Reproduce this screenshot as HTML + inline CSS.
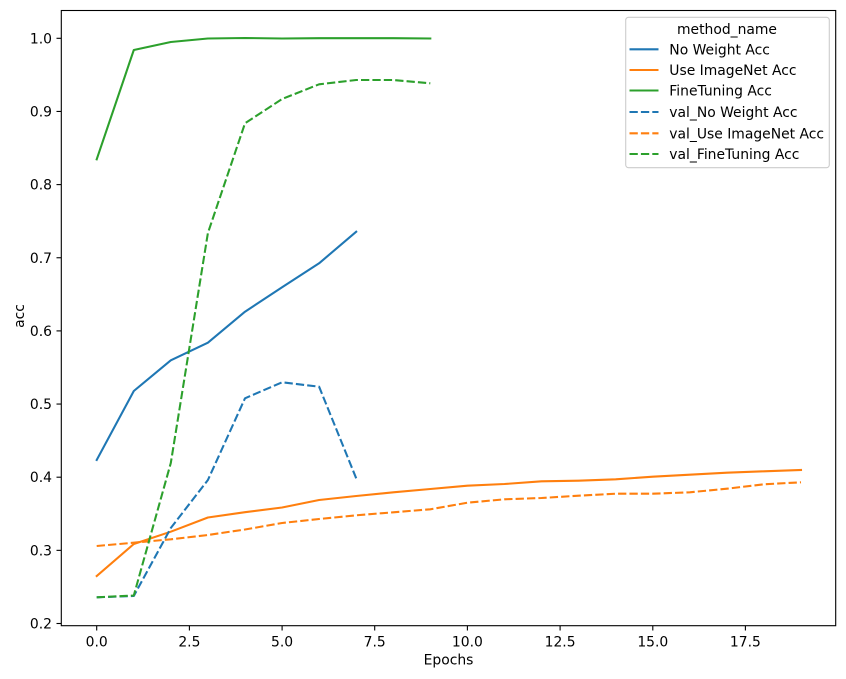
<!DOCTYPE html>
<html>
<head>
<meta charset="utf-8">
<style>
html,body{margin:0;padding:0;background:#fff;}
svg{display:block;}
text{font-family:"DejaVu Sans","Liberation Sans",sans-serif;font-size:13.9px;fill:#000;}
</style>
</head>
<body>
<svg width="846" height="679" viewBox="0 0 846 679" xmlns="http://www.w3.org/2000/svg">
<rect x="0" y="0" width="846" height="679" fill="#fff"/>

<!-- series -->
<g fill="none" stroke-width="2.08" stroke-linejoin="round" stroke-linecap="butt">
  <!-- No Weight Acc -->
  <polyline stroke="#1f77b4" stroke-linecap="square" points="96.7,460 133.8,391 170.8,360.3 207.9,342.7 245.0,311.7 282.1,287.3 319.1,263.3 356.2,231.7"/>
  <!-- Use ImageNet Acc -->
  <polyline stroke="#ff7f0e" stroke-linecap="square" points="96.7,576 133.8,544 170.8,531.7 207.9,517.5 245.0,512.2 282.1,507.5 319.1,500 356.2,496 393.3,492.3 430.3,489 467.4,485.7 504.5,484 541.5,481.3 578.6,480.7 615.7,479.3 652.8,476.7 689.8,474.7 726.9,472.7 764.0,471.3 801.0,470"/>
  <!-- FineTuning Acc -->
  <polyline stroke="#2ca02c" stroke-linecap="square" points="96.7,159.3 133.8,50 170.8,42 207.9,38.5 245.0,38 282.1,38.5 319.1,38.2 356.2,38.2 393.3,38.2 430.3,38.5"/>
  <!-- val_No Weight Acc -->
  <polyline stroke="#1f77b4" stroke-dasharray="8.3,3.1" points="96.7,597.3 133.8,596 170.8,528 207.9,480 245.0,398.3 282.1,382.3 319.1,386.7 356.2,478.3"/>
  <!-- val_Use ImageNet Acc -->
  <polyline stroke="#ff7f0e" stroke-dasharray="8.3,3.1" points="96.7,546 133.8,542.7 170.8,539.3 207.9,535 245.0,529.5 282.1,523 319.1,519 356.2,515.3 393.3,512.3 430.3,509.3 467.4,502.7 504.5,499.3 541.5,498 578.6,495.7 615.7,493.7 652.8,493.7 689.8,492.3 726.9,488.7 764.0,484.3 801.0,482.3"/>
  <!-- val_FineTuning Acc -->
  <polyline stroke="#2ca02c" stroke-dasharray="8.3,3.1" points="96.7,597.3 133.8,595.5 170.8,463 207.9,233 245.0,123.3 282.1,99 319.1,84.3 356.2,80 393.3,80 430.3,83.3"/>
</g>

<!-- axes frame -->
<rect x="61.3" y="10.5" width="774.4" height="615.2" fill="none" stroke="#000" stroke-width="1.1"/>

<!-- y ticks -->
<g stroke="#000" stroke-width="1.1">
  <line x1="56.5" y1="38.3" x2="61.3" y2="38.3"/>
  <line x1="56.5" y1="111.45" x2="61.3" y2="111.45"/>
  <line x1="56.5" y1="184.6" x2="61.3" y2="184.6"/>
  <line x1="56.5" y1="257.75" x2="61.3" y2="257.75"/>
  <line x1="56.5" y1="330.9" x2="61.3" y2="330.9"/>
  <line x1="56.5" y1="404.05" x2="61.3" y2="404.05"/>
  <line x1="56.5" y1="477.2" x2="61.3" y2="477.2"/>
  <line x1="56.5" y1="550.35" x2="61.3" y2="550.35"/>
  <line x1="56.5" y1="623.5" x2="61.3" y2="623.5"/>
</g>
<g text-anchor="end">
  <text x="52" y="43.3">1.0</text>
  <text x="52" y="116.45">0.9</text>
  <text x="52" y="189.6">0.8</text>
  <text x="52" y="262.75">0.7</text>
  <text x="52" y="335.9">0.6</text>
  <text x="52" y="409.05">0.5</text>
  <text x="52" y="482.2">0.4</text>
  <text x="52" y="555.35">0.3</text>
  <text x="52" y="628.5">0.2</text>
</g>

<!-- x ticks -->
<g stroke="#000" stroke-width="1.1">
  <line x1="96.7" y1="625.7" x2="96.7" y2="630.5"/>
  <line x1="189.4" y1="625.7" x2="189.4" y2="630.5"/>
  <line x1="282.1" y1="625.7" x2="282.1" y2="630.5"/>
  <line x1="374.7" y1="625.7" x2="374.7" y2="630.5"/>
  <line x1="467.4" y1="625.7" x2="467.4" y2="630.5"/>
  <line x1="560.1" y1="625.7" x2="560.1" y2="630.5"/>
  <line x1="652.8" y1="625.7" x2="652.8" y2="630.5"/>
  <line x1="745.4" y1="625.7" x2="745.4" y2="630.5"/>
</g>
<g text-anchor="middle">
  <text x="96.7" y="646.7">0.0</text>
  <text x="189.4" y="646.7">2.5</text>
  <text x="282.1" y="646.7">5.0</text>
  <text x="374.7" y="646.7">7.5</text>
  <text x="467.4" y="646.7">10.0</text>
  <text x="560.1" y="646.7">12.5</text>
  <text x="652.8" y="646.7">15.0</text>
  <text x="745.4" y="646.7">17.5</text>
</g>

<!-- axis labels -->
<text x="448.5" y="664.5" text-anchor="middle">Epochs</text>
<text transform="translate(23.8,316) rotate(-90)" text-anchor="middle">acc</text>

<!-- legend -->
<rect x="625.7" y="17.3" width="203.6" height="150.4" rx="2.8" ry="2.8" fill="#fff" fill-opacity="0.8" stroke="#cccccc" stroke-width="1.1"/>
<text x="727" y="34" text-anchor="middle">method_name</text>
<g fill="none" stroke-width="2.08">
  <line x1="629.5" y1="49.3" x2="658.5" y2="49.3" stroke="#1f77b4"/>
  <line x1="629.5" y1="70" x2="658.5" y2="70" stroke="#ff7f0e"/>
  <line x1="629.5" y1="90.5" x2="658.5" y2="90.5" stroke="#2ca02c"/>
  <line x1="629.5" y1="112" x2="658.5" y2="112" stroke="#1f77b4" stroke-dasharray="8.3,3.1"/>
  <line x1="629.5" y1="133.3" x2="658.5" y2="133.3" stroke="#ff7f0e" stroke-dasharray="8.3,3.1"/>
  <line x1="629.5" y1="154" x2="658.5" y2="154" stroke="#2ca02c" stroke-dasharray="8.3,3.1"/>
</g>
<g>
  <text x="669.3" y="54.3">No Weight Acc</text>
  <text x="669.3" y="75">Use ImageNet Acc</text>
  <text x="669.3" y="95.5">FineTuning Acc</text>
  <text x="669.3" y="117">val_No Weight Acc</text>
  <text x="669.3" y="138.3">val_Use ImageNet Acc</text>
  <text x="669.3" y="159">val_FineTuning Acc</text>
</g>
</svg>
</body>
</html>
